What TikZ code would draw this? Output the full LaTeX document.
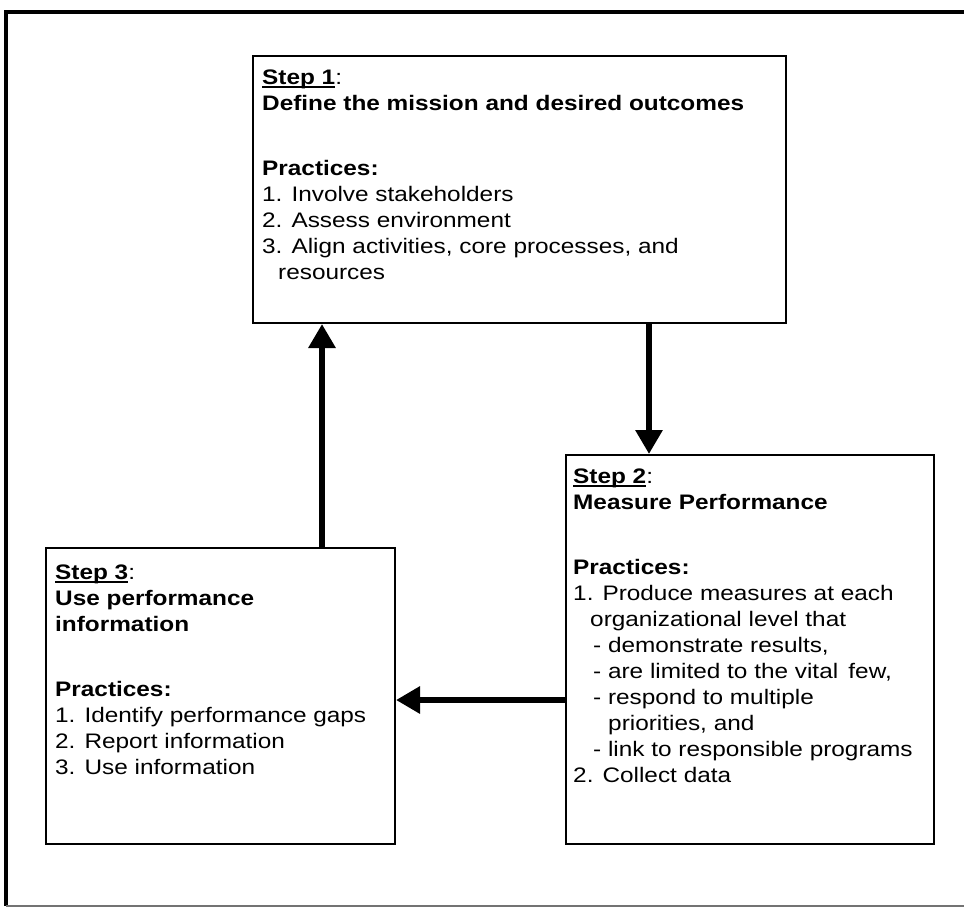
\documentclass[tikz,border=0pt]{standalone}
\usepackage{fontspec}
\setmainfont{Liberation Sans}[FakeStretch=1.16]
\usetikzlibrary{arrows.meta}

% bold step label with a heavy underline, colon added by caller
\newcommand\steplabel[1]{\setbox0\hbox{\bfseries #1}\rlap{\rule[-4pt]{\wd0}{1.8pt}}\box0}

\tikzset{
  stepbox/.style={draw, line width=2pt, fill=white, anchor=north west, inner sep=0pt},
  steptext/.style={anchor=north west, inner sep=0pt, align=left,
    font=\fontsize{21}{26}\selectfont},
  flow/.style={line width=6.5pt, -{Triangle[length=24pt,width=26pt]}},
}

\begin{document}
\begin{tikzpicture}[x=1pt,y=-1pt]
  \useasboundingbox (0,0) rectangle (964,911);

  % page frame (open on the right)
  \draw[line width=4.5pt] (6,10) -- (6,906);
  \draw[line width=4pt] (4,12) -- (964,12);
  \draw[line width=2pt, black!55] (6,906) -- (964,906);

  % boxes
  \node[stepbox, minimum width=533pt, minimum height=267pt] (s1) at (252,55) {};
  \node[stepbox, minimum width=368pt, minimum height=389pt] (s2) at (565,454) {};
  \node[stepbox, minimum width=349pt, minimum height=296pt] (s3) at (45,547) {};

  % box contents
  \node[steptext] (t1) at (262,66) {\rule{0pt}{18pt}\steplabel{Step 1}:\\
    \textbf{Define the mission and desired outcomes}\\[39pt]
    \textbf{Practices:}\\
    1. Involve stakeholders\\
    2. Assess environment\\
    3. Align activities, core processes, and\\
    \hspace*{16pt}resources};

  \node[steptext] (t2) at (573,465) {\rule{0pt}{18pt}\steplabel{Step 2}:\\
    \textbf{Measure Performance}\\[39pt]
    \textbf{Practices:}\\
    1. Produce measures at each\\
    \hspace*{17pt}organizational level that\\
    \hspace*{20pt}- demonstrate results,\\
    \hspace*{20pt}- are limited to the vital\, few,\\
    \hspace*{20pt}- respond to multiple\\
    \hspace*{35pt}priorities, and\\
    \hspace*{20pt}- link to responsible programs\\
    2. Collect data};

  \node[steptext] (t3) at (55,561) {\rule{0pt}{18pt}\steplabel{Step 3}:\\
    \textbf{Use performance}\\
    \textbf{information}\\[39pt]
    \textbf{Practices:}\\
    1. Identify performance gaps\\
    2. Report information\\
    3. Use information};

  % connector positions
  \coordinate (upx) at (322,0);
  \coordinate (dnx) at (649,0);
  \coordinate (lfy) at (0,700);

  % cycle arrows
  \draw[flow] (dnx |- s1.south) -- (dnx |- s2.north);
  \draw[flow] (s2.west |- lfy) -- (s3.east |- lfy);
  \draw[flow] (upx |- s3.north) -- (upx |- s1.south);
\end{tikzpicture}
\end{document}
